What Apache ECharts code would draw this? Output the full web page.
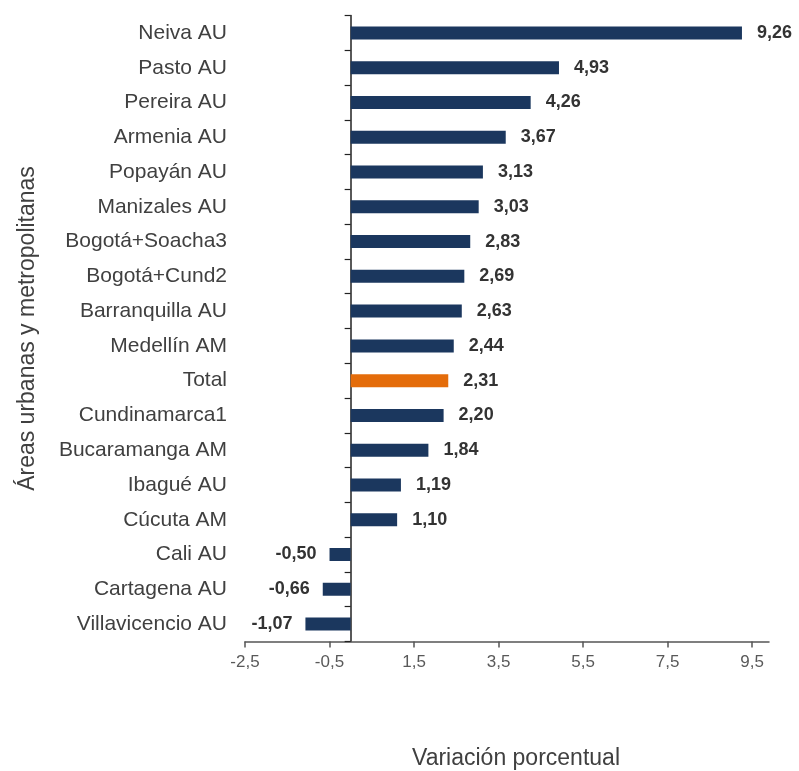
<!DOCTYPE html>
<html><head><meta charset="utf-8">
<script src="https://cdn.jsdelivr.net/npm/echarts@6/dist/echarts.min.js"></script>
<style>html,body{margin:0;padding:0;background:#fff}#c{width:799px;height:771px}</style>
</head><body><div id="c"></div>
<script>
const categories = ["Neiva AU","Pasto AU","Pereira AU","Armenia AU","Popayán AU","Manizales AU","Bogotá+Soacha3","Bogotá+Cund2","Barranquilla AU","Medellín AM","Total","Cundinamarca1","Bucaramanga AM","Ibagué AU","Cúcuta AM","Cali AU","Cartagena AU","Villavicencio AU"];
const values = [9.26,4.93,4.26,3.67,3.13,3.03,2.83,2.69,2.63,2.44,2.31,2.20,1.84,1.19,1.10,-0.50,-0.66,-1.07];
const highlight = "Total";
const xTicks = [-2.5,-0.5,1.5,3.5,5.5,7.5,9.5];
const yTitle = "Áreas urbanas y metropolitanas";
const xTitle = "Variación porcentual";

const fmt = v => v.toFixed(2).replace('.', ',');
const navy = '#1b375e', orange = '#e46c0a';
const data = values.map((v,i) => ({
  value: v,
  itemStyle: {color: categories[i] === highlight ? orange : navy},
  label: {position: v < 0 ? 'left' : 'right', distance: v < 0 ? 13 : 15}
}));
const chart = echarts.init(document.getElementById('c'));
chart.setOption({
  animation: false,
  textStyle: {fontFamily: 'Liberation Sans, Arial, sans-serif'},
  grid: {left: 245, right: 30, top: 15.6, bottom: 129.6, containLabel: false, outerBoundsMode: 'none'},
  xAxis: {
    type: 'value', min: -2.5, max: 9.9,
    splitLine: {show: false},
    axisLine: {show: true, onZero: false, lineStyle: {color: '#555', width: 1.5}},
    axisTick: {show: true, length: 6, customValues: xTicks, lineStyle: {color: '#555', width: 1.5}},
    axisLabel: {customValues: xTicks, formatter: v => String(v).replace('.', ','), color: '#595959', fontSize: 17, margin: 12},
    name: xTitle, nameLocation: 'middle', nameGap: 106,
    nameTextStyle: {color: '#404040', fontSize: 23, padding: [0, 0, 0, 18]}
  },
  yAxis: [{
    type: 'category', data: categories, inverse: true,
    axisLine: {show: false, onZero: false}, axisTick: {show: false},
    axisLabel: {color: '#404040', fontSize: 21, margin: 18},
    name: yTitle, nameLocation: 'middle', nameGap: 206, nameRotate: 90,
    nameTextStyle: {color: '#404040', fontSize: 23}
  }, {
    type: 'category', data: categories, inverse: true, position: 'left',
    axisLine: {show: true, onZero: true, lineStyle: {color: '#222', width: 1.5}},
    axisTick: {show: true, length: 6, lineStyle: {color: '#222', width: 1.2}},
    axisLabel: {show: false}
  }],
  series: [{
    type: 'bar', data: data, barWidth: 13, yAxisIndex: 0,
    label: {show: true, formatter: p => fmt(p.value), fontWeight: 'bold', fontSize: 18, color: '#333'}
  }]
});
</script></body></html>
